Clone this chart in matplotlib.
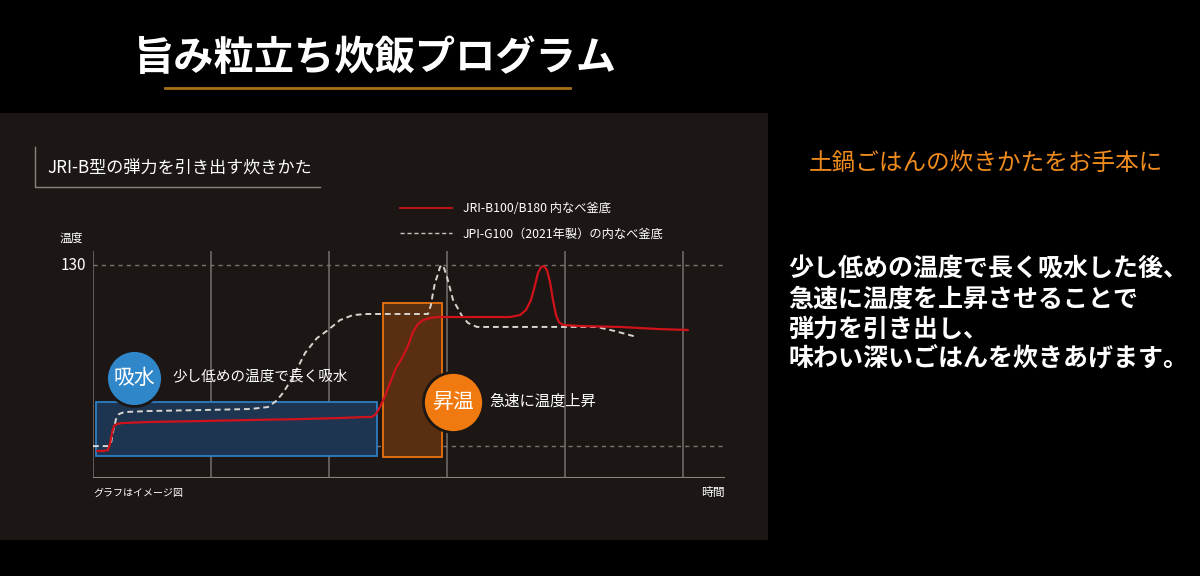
import matplotlib
matplotlib.use("Agg")
import matplotlib.pyplot as plt
from matplotlib.patches import Rectangle
from matplotlib.lines import Line2D

plt.rcParams['font.family'] = ['Noto Sans CJK JP', 'DejaVu Sans']

# ---- データ（イメージ図から読み取り） ----
# 時間（任意単位）と温度
jri_time = [0.34, 0.93, 1.27, 1.44, 1.61, 1.78, 2.03, 2.46, 4.83, 9.07, 13.31,
            17.54, 20.93, 23.31, 23.64, 23.98, 24.32, 24.75, 25.17, 25.68, 26.19,
            26.69, 27.12, 27.54, 27.97, 28.56, 29.15, 29.83, 32.80, 35.34, 36.19,
            36.69, 37.12, 37.46, 37.71, 37.97, 38.22, 38.47, 38.73, 38.98, 39.24,
            39.49, 39.83, 41.27, 44.66, 48.05, 50.42]
jri_temp = [26.7, 26.7, 27.2, 30.6, 36.7, 40.6, 41.7, 42.2, 42.8, 43.3, 43.9,
            44.4, 45.0, 45.6, 45.6, 47.2, 51.1, 57.2, 64.4, 72.8, 78.3,
            85.0, 92.8, 97.2, 99.4, 100.6, 101.1, 101.1, 101.1, 101.1, 102.2,
            105.0, 110.6, 118.9, 125.6, 128.9, 129.4, 127.2, 120.6, 110.6, 102.2,
            98.3, 96.7, 96.1, 95.6, 94.4, 93.9]

jpi_time = [0.0, 0.59, 1.27, 1.53, 1.69, 1.95, 2.20, 2.63, 4.83, 9.07, 13.31,
            14.83, 15.51, 16.10, 16.95, 17.97, 18.98, 19.92, 20.93, 22.03, 23.22,
            26.02, 28.39, 28.64, 28.81, 28.98, 29.15, 29.41, 29.58, 29.75, 30.00,
            30.25, 30.51, 30.85, 31.27, 31.78, 32.54, 34.49, 38.73, 42.71, 44.24,
            46.10]
jpi_temp = [29.4, 29.4, 29.4, 31.1, 37.2, 44.4, 47.2, 48.3, 48.9, 49.4, 50.0,
            51.1, 54.4, 58.9, 67.8, 81.1, 89.4, 93.9, 99.4, 102.2, 102.8,
            102.8, 102.8, 107.8, 114.4, 120.0, 123.3, 128.9, 130.0, 128.3, 123.3,
            117.2, 110.6, 106.7, 101.7, 97.8, 95.6, 95.6, 95.6, 95.6, 93.3,
            90.0]

# 工程（吸水・昇温）の範囲
phase_names = ["吸水", "昇温"]
phase_desc = ["少し低めの温度で長く吸水", "急速に温度上昇"]
phase_t0 = [0.25, 24.58]
phase_t1 = [24.07, 29.58]
phase_lo = [23.9, 23.3]
phase_hi = [53.9, 108.9]
badge_t = [3.5, 30.51]
badge_temp = [67.5, 53.9]

grid_t = [0, 10, 20, 30, 40, 50]
ref_temp = [130, 29.4]
series_labels = ["JRI-B100/B180 内なべ釜底", "JPI-G100（2021年製）の内なべ釜底"]

body_lines = ["少し低めの温度で長く吸水した後、",
              "急速に温度を上昇させることで",
              "弾力を引き出し、",
              "味わい深いごはんを炊きあげます。"]

W, H = 1200, 576


def fx(x):
    return x / W


def fy(y):
    return 1 - y / H


fig = plt.figure(figsize=(12, 5.76), dpi=100, facecolor="black")

# 背景パネル
fig.add_artist(Rectangle((0, fy(540)), fx(768), (540 - 113) / H,
                         transform=fig.transFigure, facecolor="#1c1614",
                         edgecolor="none", zorder=0))

# タイトル
fig.text(fx(375), fy(58), "旨み粒立ち炊飯プログラム", color="white",
         fontsize=29, fontweight="bold", ha="center", va="center")
fig.add_artist(Line2D([fx(165), fx(570)], [fy(88), fy(88)],
                      transform=fig.transFigure, color="#a8701a", lw=2))

# 見出し
fig.text(fx(47), fy(169), "JRI-B型の弾力を引き出す炊きかた", color="white",
         fontsize=12.3, ha="left", va="center")
fig.add_artist(Line2D([fx(35), fx(35), fx(320)], [fy(147), fy(187), fy(187)],
                      transform=fig.transFigure, color="#8a8380", lw=1))

# 右側の説明
fig.text(fx(986), fy(163), "土鍋ごはんの炊きかたをお手本に", color="#f08c1e",
         fontsize=17, ha="center", va="center")
for i, line in enumerate(body_lines):
    fig.text(fx(788), fy(270 + i * 29.7), line, color="white", fontsize=18,
             fontweight="bold", ha="left", va="center")

# グラフ
ax = fig.add_axes([fx(93), fy(478), (725 - 93) / W, (478 - 251) / H])
ax.set_xlim(0, 53.56)
ax.set_ylim(11.67, 137.8)
ax.set_facecolor("none")
ax.axis("off")

ax.vlines(grid_t, 11.67, 137.8, color="#6e6866", lw=1.2, zorder=1)
ax.axhline(11.67, color="#8a8380", lw=1.5, zorder=1)
for r in ref_temp:
    ax.axhline(r, color="#7a7470", lw=1, ls=(0, (3, 3)), zorder=1)

phase_fill = ["#1d3550", "#5a2e10"]
phase_edge = ["#2d7fc4", "#e8730f"]
badge_color = ["#2f86c8", "#f07a10"]
badge_size = [1620, 1870]
for i in range(2):
    ax.add_patch(Rectangle((phase_t0[i], phase_lo[i]), phase_t1[i] - phase_t0[i],
                           phase_hi[i] - phase_lo[i], facecolor=phase_fill[i],
                           edgecolor=phase_edge[i], lw=1.3, zorder=2))

ax.plot(jri_time, jri_temp, color="#d0121b", lw=1.6, zorder=4,
        solid_capstyle="round")
ax.plot(jpi_time, jpi_temp, color="#d8d4d0", lw=1.4, ls=(0, (3, 2)), zorder=3)

for i in range(2):
    ax.scatter([badge_t[i]], [badge_temp[i]], s=badge_size[i], color=badge_color[i],
               edgecolors="#1c1614", linewidths=2, zorder=5, clip_on=False)
    ax.text(badge_t[i], badge_temp[i], phase_names[i], color="white",
            fontsize=15, ha="center", va="center", zorder=6)
ax.text(6.7, 67.8, phase_desc[0], color="white", fontsize=10.5,
        ha="left", va="center", zorder=6)
ax.text(33.6, 54.4, phase_desc[1], color="white", fontsize=11,
        ha="left", va="center", zorder=6)

# 凡例
fig.add_artist(Line2D([fx(400), fx(452)], [fy(208), fy(208)],
                      transform=fig.transFigure, color="#d0121b", lw=1.3))
fig.add_artist(Line2D([fx(400), fx(452)], [fy(233), fy(233)],
                      transform=fig.transFigure, color="#c8c4c0", lw=1,
                      ls=(0, (3, 2))))
fig.text(fx(463), fy(209), series_labels[0], color="white", fontsize=8.8,
         ha="left", va="center")
fig.text(fx(463), fy(234), series_labels[1], color="white", fontsize=8.8,
         ha="left", va="center")

# 軸ラベル
fig.text(fx(60), fy(238), "温度", color="white", fontsize=8.5, ha="left", va="center")
fig.text(fx(86), fy(266), "130", color="white", fontsize=11, ha="right", va="center")
fig.text(fx(93), fy(493), "グラフはイメージ図", color="white", fontsize=7.2,
         ha="left", va="center")
fig.text(fx(725), fy(492), "時間", color="white", fontsize=8.5, ha="right", va="center")

fig.savefig("out.png", dpi=100, facecolor="black")
